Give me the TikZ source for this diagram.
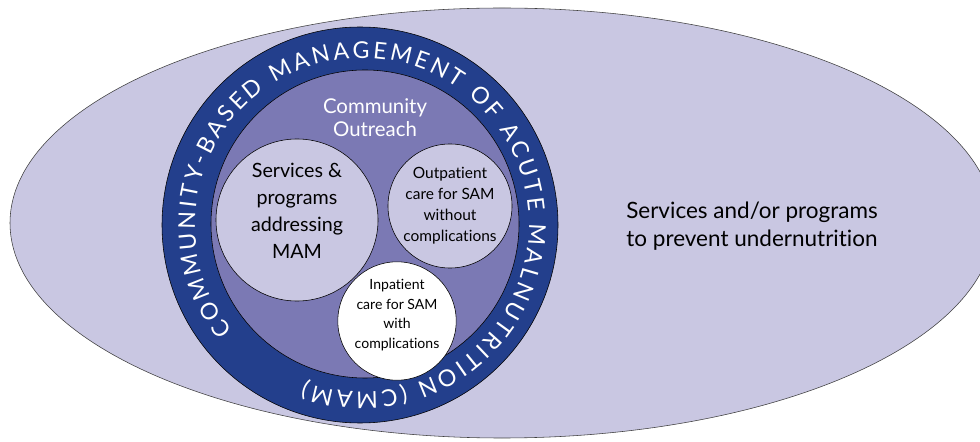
\documentclass[tikz,border=0pt]{standalone}
\usepackage{fontspec}
\setmainfont{Lato}[Ligatures=NoCommon]
\usetikzlibrary{decorations.text}

\definecolor{lavender}{RGB}{201,199,226}
\definecolor{cmamblue}{RGB}{35,63,140}
\definecolor{outreachpurple}{RGB}{123,121,180}

\tikzset{
    service/.style={circle, draw=black, thin, fill=lavender, align=center, inner sep=0pt},
}

\begin{document}
\begin{tikzpicture}[x=0.025cm, y=0.025cm]
    \useasboundingbox (0, 0) rectangle (980, 441);

    % prevention
    \draw[fill=lavender, draw=black!75] (502, 218) ellipse (492 and 215);
    \node[align=center, font=\fontsize{16}{20}\selectfont] (prevention) at (752, 215)
        {Services and/or programs\\to prevent undernutrition};

    % CMAM ring
    \draw[fill=cmamblue] (360, 216) circle (198);
    \draw[fill=outreachpurple] (365, 217) circle (154);
    \coordinate (cmam) at (362, 216);
    \path[decorate, decoration={text along path, text align={fit to path},
        text={|\fontsize{16.5}{16.5}\selectfont\color{white}|COMMUNITY-BASED MANAGEMENT OF ACUTE MALNUTRITION (CMAM)}}]
        ([shift={(219:167)}]cmam) arc[start angle=219, end angle=-110, radius=167];

    \node[white, align=center, font=\fontsize{14.5}{16.5}\selectfont] (outreach) at (375, 323)
        {Community\\Outreach};

    \node[service, minimum size=4.05cm, font=\fontsize{14}{19}\selectfont] (mam) at (297, 221)
        {Services \&\\programs\\addressing\\MAM\\[-6pt]};
    \node[service, minimum size=3.1cm, font=\fontsize{11}{15}\selectfont] (outpatient) at (450, 235)
        {Outpatient\\care for SAM\\without\\complications};
    \node[service, fill=white, minimum size=2.75cm, font=\fontsize{10}{14}\selectfont] (inpatient) at (397, 120)
        {Inpatient\\care for SAM\\with\\complications\\[-4pt]};

\end{tikzpicture}
\end{document}
